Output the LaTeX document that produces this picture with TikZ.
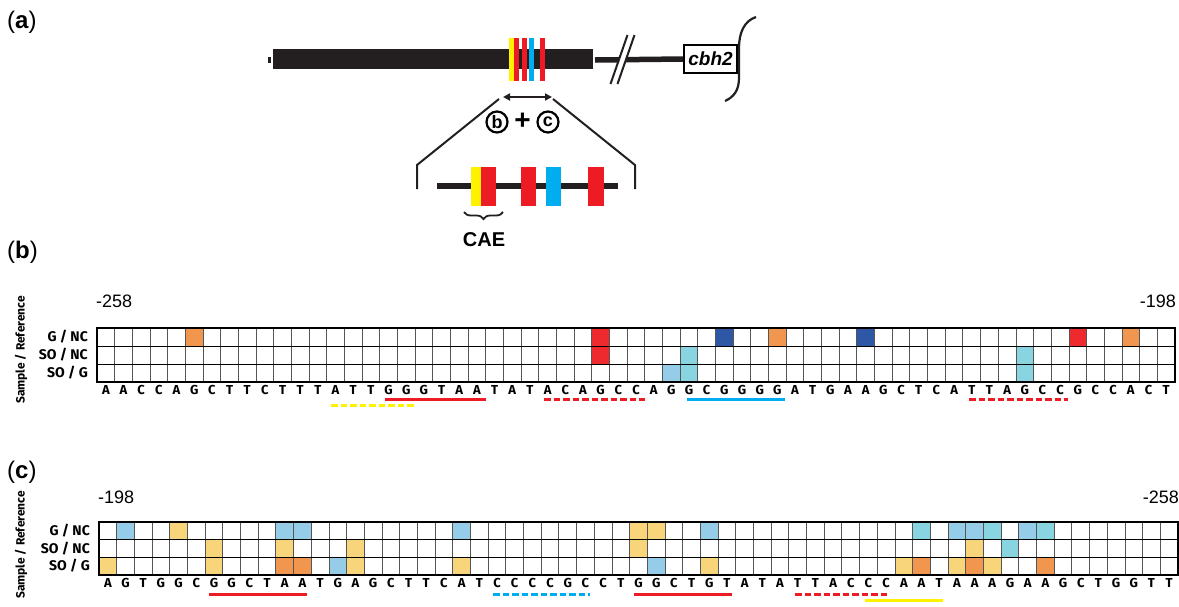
\documentclass[tikz,border=0pt]{standalone}
\usepackage{fontspec}
\setmainfont{Liberation Sans}
\newfontfamily\seqfont{Fira Sans}
\usetikzlibrary{arrows.meta,decorations.pathreplacing}
\definecolor{barblk}{HTML}{231F20}
\definecolor{sYel}{HTML}{FFF200}
\definecolor{sRed}{HTML}{ED1C24}
\definecolor{sBlu}{HTML}{00AEEF}
\definecolor{cOrg}{HTML}{F0964F}
\definecolor{cRed}{HTML}{EE2A2F}
\definecolor{cDbl}{HTML}{2E58A6}
\definecolor{cLbl}{HTML}{95CCE8}
\definecolor{cCya}{HTML}{88D4E0}
\definecolor{cYel}{HTML}{F8D47A}
\definecolor{gridln}{HTML}{555555}
\tikzset{
  panellbl/.style={anchor=west,font=\fontsize{24}{28}\selectfont,inner sep=0},
  numlbl/.style={font=\fontsize{18}{20}\selectfont,inner sep=0},
  rowlbl/.style={anchor=east,font=\seqfont\bfseries\fontsize{14}{16}\selectfont,inner sep=0},
  seqlet/.style={font=\seqfont\bfseries\fontsize{13}{14}\selectfont,inner sep=0},
  axislbl/.style={rotate=90,font=\seqfont\bfseries\fontsize{12}{14}\selectfont,inner sep=0},
  circlbl/.style={circle,draw,line width=2.2,minimum size=21,inner sep=0,font=\bfseries\fontsize{18}{18}\selectfont},
  ulsolid/.style={line width=3},
  uldash/.style={line width=3,dash pattern=on 6.5 off 3},
}
\newcommand\cellB[3]{\fill[#3] ({97+#2*17.672},{328+#1*18}) rectangle ++(17.672,18);}
\newcommand\cellC[3]{\fill[#3] ({99+#2*17.689},{522+#1*17.67}) rectangle ++(17.689,17.67);}
\begin{document}
\begin{tikzpicture}[x=1pt,y=-1pt]
\useasboundingbox (0,0) rectangle (1179,606);
% ---------------- panel a ----------------
\node[panellbl] (la) at (7,22) {(\textbf{a})};
\fill[barblk] (268,57) rectangle (270.5,63);
\fill[barblk] (273,49) rectangle (593,69);
\fill[sYel] (509,38) rectangle (514,81);
\fill[sRed] (514,38) rectangle (518.5,81);
\fill[sRed] (522,38) rectangle (527,81);
\fill[sBlu] (529,38) rectangle (534,81);
\fill[sRed] (539.5,38) rectangle (545,81);
\node[draw,line width=2,minimum width=53,minimum height=28,inner sep=0,
      font=\bfseries\itshape\fontsize{19}{20}\selectfont] (cbh) at (710.5,59) {cbh2};
\draw[barblk,line width=5.5] (595,60) -- (cbh.west);
\fill[white] (612,82) -- (619,82) -- (634,37) -- (627,37) -- cycle;
\draw[barblk,line width=2] (610.5,84) -- (627.5,35);
\draw[barblk,line width=2] (617.5,84) -- (634.5,35);
\draw[barblk,line width=2.2] (756,17) .. controls (744,21) and (739,33) .. (739,48) -- (739,78) .. controls (739,90) and (734,97) .. (725,101);
\coordinate (arL) at (503,97);
\coordinate (arR) at (552,97);
\draw[barblk,line width=1.8,{Triangle[length=7,width=7]}-{Triangle[length=7,width=7]}] (arL) -- (arR);
\draw[barblk,line width=2] (499,99) -- (417,165) -- (417,189);
\draw[barblk,line width=2] (553,99) -- (635,165) -- (635,189);
\node[circlbl] (cb) at (497,122) {b};
\node[font=\bfseries\fontsize{28}{28}\selectfont,inner sep=0] (pl) at (522.5,121) {+};
\node[circlbl] (cc) at (548,122) {c};
\draw[barblk,line width=6] (437,186) -- (618,186);
\fill[sYel] (471,167) rectangle (481,206);
\fill[sRed] (481,167) rectangle (496,206);
\fill[sRed] (521,167) rectangle (536,206);
\fill[sBlu] (546,167) rectangle (561,206);
\fill[sRed] (588,167) rectangle (604,206);
\draw[barblk,line width=1.8,decorate,decoration={brace,mirror,amplitude=7}] (464,212) -- (503,212);
\node[font=\bfseries\fontsize{20}{22}\selectfont,inner sep=0] (cae) at (484,240) {CAE};
% ---------------- panel b ----------------
\node[panellbl] (lb) at (7,252) {(\textbf{b})};
\node[axislbl] (axb) at (21,350) {Sample / Reference};
\node[numlbl,anchor=west] (nb1) at (96,301) {-258};
\node[numlbl,anchor=east] (nb2) at (1176,301) {-198};
\node[rowlbl] (rb0) at (88,337) {G / NC};
\node[rowlbl] (rb1) at (88,355) {SO / NC};
\node[rowlbl] (rb2) at (88,373) {SO / G};
\cellB{0}{5}{cOrg}
\cellB{0}{28}{cRed}\cellB{1}{28}{cRed}
\cellB{0}{35}{cDbl}
\cellB{0}{38}{cOrg}
\cellB{2}{32}{cLbl}
\cellB{1}{33}{cCya}\cellB{2}{33}{cCya}
\cellB{0}{43}{cDbl}
\cellB{1}{52}{cCya}\cellB{2}{52}{cCya}
\cellB{0}{55}{cRed}
\cellB{0}{58}{cOrg}
\foreach \c in {1,...,60} \draw[gridln,line width=0.9] ({97+\c*17.672},328) -- ({97+\c*17.672},382);
\foreach \r in {1,2} \draw[black,line width=1] (97,{328+\r*18}) -- (1175,{328+\r*18});
\draw[black,line width=1.4] (97,328) rectangle (1175,382);
\foreach [count=\i from 0] \l in {A,A,C,C,A,G,C,T,T,C,T,T,T,A,T,T,G,G,G,T,A,A,T,A,T,A,C,A,G,C,C,A,G,G,C,G,G,G,G,A,T,G,A,A,G,C,T,C,A,T,T,A,G,C,C,G,C,C,A,C,T}
  \node[seqlet] (bs\i) at ({97+(\i+0.5)*17.672},390) {\l};
\draw[sYel,uldash] (331,405) -- (414,405);
\draw[sRed,ulsolid] (385,399) -- (486,399);
\draw[sRed,uldash] (544,399) -- (645,399);
\draw[sBlu,ulsolid] (687,399) -- (785,399);
\draw[sRed,uldash] (969,399) -- (1068,399);
% ---------------- panel c ----------------
\node[panellbl] (lc) at (7,472) {(\textbf{c})};
\node[axislbl] (axc) at (21,545) {Sample / Reference};
\node[numlbl,anchor=west] (nc1) at (98,497) {-198};
\node[numlbl,anchor=east] (nc2) at (1179,497) {-258};
\node[rowlbl] (rc0) at (90,531) {G / NC};
\node[rowlbl] (rc1) at (90,548.5) {SO / NC};
\node[rowlbl] (rc2) at (90,566) {SO / G};
\cellC{0}{1}{cLbl}\cellC{0}{4}{cYel}\cellC{0}{10}{cLbl}\cellC{0}{11}{cLbl}
\cellC{0}{20}{cLbl}\cellC{0}{30}{cYel}\cellC{0}{31}{cYel}\cellC{0}{34}{cLbl}
\cellC{0}{46}{cCya}\cellC{0}{48}{cLbl}\cellC{0}{49}{cLbl}\cellC{0}{50}{cCya}
\cellC{0}{52}{cLbl}\cellC{0}{53}{cCya}
\cellC{1}{6}{cYel}\cellC{1}{10}{cYel}\cellC{1}{14}{cYel}\cellC{1}{30}{cYel}
\cellC{1}{49}{cYel}\cellC{1}{51}{cCya}
\cellC{2}{0}{cYel}\cellC{2}{6}{cYel}\cellC{2}{10}{cOrg}\cellC{2}{11}{cOrg}
\cellC{2}{13}{cLbl}\cellC{2}{14}{cYel}\cellC{2}{20}{cYel}\cellC{2}{31}{cLbl}
\cellC{2}{34}{cYel}\cellC{2}{45}{cYel}\cellC{2}{46}{cOrg}\cellC{2}{48}{cYel}
\cellC{2}{49}{cOrg}\cellC{2}{50}{cYel}\cellC{2}{53}{cOrg}
\foreach \c in {1,...,60} \draw[gridln,line width=0.9] ({99+\c*17.689},522) -- ({99+\c*17.689},575);
\foreach \r in {1,2} \draw[black,line width=1] (99,{522+\r*17.67}) -- (1178,{522+\r*17.67});
\draw[black,line width=1.4] (99,522) rectangle (1178,575);
\foreach [count=\i from 0] \l in {A,G,T,G,G,C,G,G,C,T,A,A,T,G,A,G,C,T,T,C,A,T,C,C,C,C,G,C,C,T,G,G,C,T,G,T,A,T,A,T,T,A,C,C,C,A,A,T,A,A,A,G,A,A,G,C,T,G,G,T,T}
  \node[seqlet] (cs\i) at ({99+(\i+0.5)*17.689},583) {\l};
\draw[sRed,ulsolid] (209,594) -- (307,594);
\draw[sBlu,uldash] (493,594) -- (590,594);
\draw[sRed,ulsolid] (634,594) -- (732,594);
\draw[sRed,uldash] (795,594) -- (888,594);
\draw[sYel,ulsolid] (865,600) -- (943,600);
\end{tikzpicture}
\end{document}
